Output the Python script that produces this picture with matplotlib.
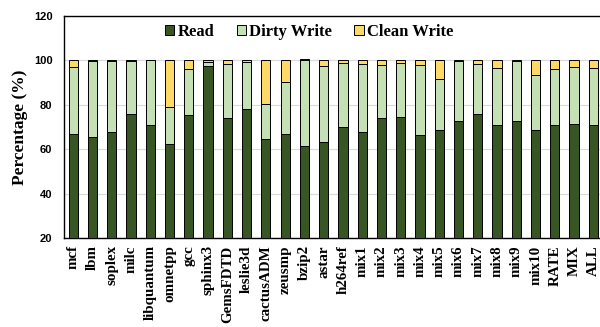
import numpy as np
import matplotlib
matplotlib.use("Agg")
import matplotlib.pyplot as plt

benchmarks = ["mcf", "lbm", "soplex", "milc", "libquantum", "omnetpp", "gcc",
              "sphinx3", "GemsFDTD", "leslie3d", "cactusADM", "zeusmp", "bzip2",
              "astar", "h264ref", "mix1", "mix2", "mix3", "mix4", "mix5", "mix6",
              "mix7", "mix8", "mix9", "mix10", "RATE", "MIX", "ALL"]

read = [66.9, 65.7, 67.7, 76.1, 71.0, 62.4, 75.3, 97.4, 74.1, 78.0, 64.5, 66.9,
        61.7, 63.2, 70.2, 67.7, 74.1, 74.7, 66.3, 68.9, 72.6, 75.9, 70.8, 72.6,
        68.9, 70.8, 71.6, 70.8]
dirty_write = [30.3, 34.0, 32.0, 23.6, 29.0, 16.8, 20.7, 1.8, 24.3, 21.3, 15.9, 23.3,
               38.3, 34.5, 28.5, 30.9, 23.7, 24.0, 31.5, 22.8, 27.3, 22.7, 25.8, 27.2,
               24.4, 25.2, 25.6, 25.7]
clean_write = [2.8, 0.5, 0.5, 0.5, 0.0, 20.8, 4.0, 0.8, 1.6, 0.7, 19.6, 9.8,
               0.5, 2.3, 1.3, 1.4, 2.2, 1.3, 2.2, 8.3, 0.5, 1.4, 3.4, 0.5,
               6.7, 4.0, 2.8, 3.5]

series_names = ["Read", "Dirty Write", "Clean Write"]
series_colors = ["#375623", "#C5E0B4", "#FFD966"]

serif = ["Liberation Serif", "DejaVu Serif"]
sans = ["Liberation Sans", "DejaVu Sans"]

fig = plt.figure(figsize=(6.0, 3.27), dpi=100)
ax = fig.add_axes([0.106, 0.271, 0.899, 0.680])

x = np.arange(len(benchmarks))
bottom = np.zeros(len(benchmarks))
for vals, name, col in zip([read, dirty_write, clean_write], series_names, series_colors):
    vals = np.asarray(vals, dtype=float)
    ax.bar(x, vals, width=0.48, bottom=bottom, color=col, edgecolor="black",
           linewidth=0.7, label=name, zorder=3)
    bottom = bottom + vals

ax.set_ylim(20, 120)
ax.set_xlim(-0.5, len(benchmarks) - 0.5)
ax.set_yticks([20, 40, 60, 80, 100, 120])
ax.yaxis.grid(True, color="#d9d9d9", linewidth=0.8, zorder=0)
ax.set_axisbelow(True)

for s in ["left", "bottom", "top"]:
    ax.spines[s].set_color("black")
    ax.spines[s].set_linewidth(1.0)
ax.spines["right"].set_visible(False)

ax.set_xticks(x)
ax.set_xticklabels(benchmarks, rotation=90, family=serif, fontweight="bold",
                   fontsize=10.8)
ax.tick_params(axis="x", length=0, pad=5)
ax.tick_params(axis="y", length=0, pad=8)
for lab in ax.get_yticklabels():
    lab.set_family(sans)
    lab.set_fontweight("bold")
    lab.set_fontsize(8)

ax.set_ylabel("Percentage (%)", family=serif, fontweight="bold", fontsize=12.5,
              labelpad=4)

leg = ax.legend(loc="center", bbox_to_anchor=(0.455, 0.928), ncol=3, frameon=False,
                prop={"family": serif, "weight": "bold", "size": 12},
                handlelength=0.55, handleheight=0.55, handletextpad=0.2,
                columnspacing=1.35)

fig.savefig("out.png", dpi=100)
